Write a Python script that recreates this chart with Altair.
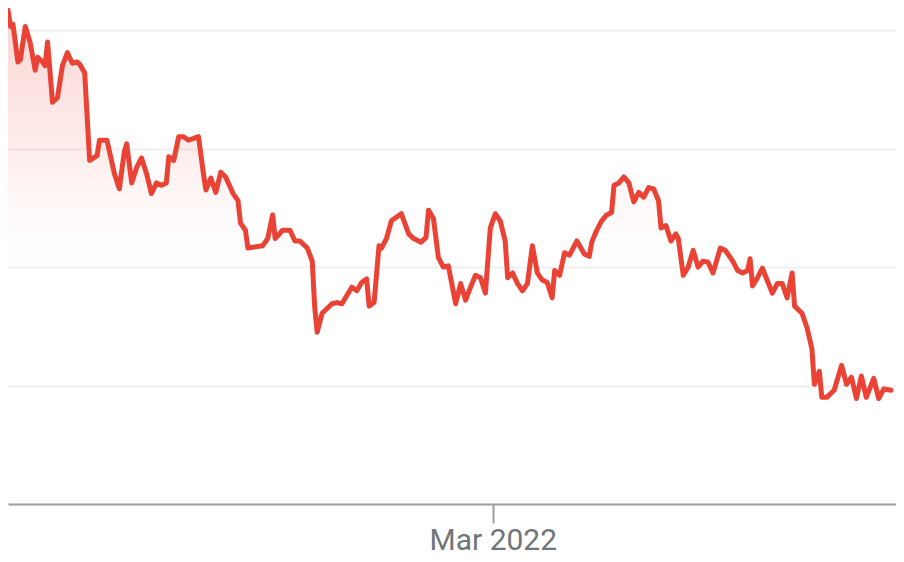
import altair as alt
import pandas as pd

dates = [
    "2021-08-17", "2021-08-18", "2021-08-19", "2021-08-21", "2021-08-22", "2021-08-24", "2021-08-26", "2021-08-28",
    "2021-08-29", "2021-08-31", "2021-09-01", "2021-09-02", "2021-09-04", "2021-09-06", "2021-09-08", "2021-09-10",
    "2021-09-12", "2021-09-14", "2021-09-15", "2021-09-17", "2021-09-19", "2021-09-22", "2021-09-23", "2021-09-26",
    "2021-09-29", "2021-10-01", "2021-10-03", "2021-10-04", "2021-10-06", "2021-10-08", "2021-10-10", "2021-10-12",
    "2021-10-14", "2021-10-16", "2021-10-18", "2021-10-20", "2021-10-21", "2021-10-23", "2021-10-25", "2021-10-27",
    "2021-10-29", "2021-11-02", "2021-11-04", "2021-11-05", "2021-11-07", "2021-11-09", "2021-11-11", "2021-11-13",
    "2021-11-16", "2021-11-18", "2021-11-19", "2021-11-21", "2021-11-22", "2021-11-28", "2021-11-30", "2021-12-02",
    "2021-12-03", "2021-12-06", "2021-12-09", "2021-12-11", "2021-12-13", "2021-12-16", "2021-12-18", "2021-12-19",
    "2021-12-20", "2021-12-22", "2021-12-26", "2021-12-28", "2021-12-30", "2022-01-03", "2022-01-05", "2022-01-07",
    "2022-01-09", "2022-01-10", "2022-01-12", "2022-01-14", "2022-01-15", "2022-01-17", "2022-01-19", "2022-01-23",
    "2022-01-26", "2022-01-28", "2022-01-31", "2022-02-02", "2022-02-03", "2022-02-05", "2022-02-07", "2022-02-09",
    "2022-02-11", "2022-02-14", "2022-02-16", "2022-02-18", "2022-02-20", "2022-02-22", "2022-02-24", "2022-02-26",
    "2022-02-28", "2022-03-02", "2022-03-04", "2022-03-06", "2022-03-07", "2022-03-09", "2022-03-11", "2022-03-13",
    "2022-03-15", "2022-03-17", "2022-03-19", "2022-03-21", "2022-03-23", "2022-03-25", "2022-03-26", "2022-03-28",
    "2022-03-30", "2022-04-01", "2022-04-04", "2022-04-07", "2022-04-09", "2022-04-10", "2022-04-12", "2022-04-14",
    "2022-04-16", "2022-04-18", "2022-04-19", "2022-04-21", "2022-04-23", "2022-04-25", "2022-04-27", "2022-04-29",
    "2022-05-01", "2022-05-03", "2022-05-05", "2022-05-07", "2022-05-08", "2022-05-10", "2022-05-12", "2022-05-14",
    "2022-05-15", "2022-05-17", "2022-05-19", "2022-05-21", "2022-05-23", "2022-05-25", "2022-05-27", "2022-05-29",
    "2022-06-01", "2022-06-03", "2022-06-06", "2022-06-08", "2022-06-10", "2022-06-12", "2022-06-13", "2022-06-14",
    "2022-06-16", "2022-06-18", "2022-06-22", "2022-06-24", "2022-06-26", "2022-06-28", "2022-06-30", "2022-07-01",
    "2022-07-04", "2022-07-06", "2022-07-08", "2022-07-09", "2022-07-11", "2022-07-12", "2022-07-14", "2022-07-17",
    "2022-07-20", "2022-07-22", "2022-07-24", "2022-07-26", "2022-07-28", "2022-07-30", "2022-08-02", "2022-08-04",
    "2022-08-06", "2022-08-09",
]

prices = [
    191.7, 190.3, 190.5, 187.3, 187.5, 190.3, 188.9, 186.6,
    187.7, 187.3, 187.0, 189.0, 183.9, 184.3, 187.0, 188.1,
    187.2, 187.3, 187.1, 186.4, 179.0, 179.4, 180.7, 180.7,
    177.9, 176.6, 179.7, 180.4, 177.1, 178.4, 179.2, 177.9,
    176.2, 177.1, 176.9, 177.1, 179.3, 179.0, 181.0, 181.0,
    180.7, 181.0, 177.9, 176.5, 177.5, 176.3, 178.0, 177.6,
    176.2, 175.6, 173.7, 173.1, 171.6, 171.8, 172.4, 174.4,
    172.4, 173.1, 173.1, 172.2, 172.2, 171.6, 170.5, 166.6,
    164.5, 166.1, 166.9, 167.0, 166.9, 168.3, 168.0, 168.7,
    169.0, 166.7, 167.0, 171.8, 171.6, 172.4, 173.9, 174.5,
    172.8, 172.4, 172.1, 172.5, 174.8, 174.1, 170.8, 170.0,
    170.1, 166.9, 168.6, 167.2, 168.3, 169.3, 169.1, 167.8,
    173.3, 174.5, 173.9, 172.2, 169.1, 169.5, 168.6, 168.0,
    168.6, 171.8, 169.5, 168.9, 168.7, 167.4, 169.7, 169.3,
    171.2, 171.0, 172.2, 171.1, 170.9, 172.1, 173.1, 173.9,
    174.4, 174.6, 176.9, 177.1, 177.6, 177.1, 175.5, 176.3,
    175.9, 176.7, 176.6, 175.6, 173.3, 173.5, 172.2, 172.8,
    172.4, 169.3, 170.0, 171.4, 170.0, 170.5, 170.4, 169.5,
    171.6, 171.4, 170.5, 169.7, 169.5, 169.7, 170.7, 168.4,
    169.1, 169.9, 167.8, 168.6, 168.6, 167.4, 169.5, 166.7,
    166.1, 164.9, 163.1, 160.1, 161.2, 159.0, 159.0, 159.6,
    161.7, 160.1, 160.7, 158.9, 160.8, 159.0, 160.6, 158.9,
    159.7, 159.6,
]

grid_values = [160, 170, 180, 190]
y_domain = [150, 191.86]
x_tick = alt.DateTime(year=2022, month=3, date=1)
x_domain = [alt.DateTime(year=2021, month=8, date=17), alt.DateTime(year=2022, month=8, date=11)]

df = pd.DataFrame({"date": dates, "price": prices})

x_enc = alt.X(
    "date:T",
    scale=alt.Scale(domain=x_domain),
    axis=alt.Axis(
        values=[x_tick],
        format="%b %Y",
        title=None,
        grid=False,
        domainColor="#9e9e9e",
        domainWidth=2,
        tickColor="#9e9e9e",
        tickWidth=2,
        tickSize=19,
        labelPadding=2,
        labelFont="Roboto",
        labelFontSize=30,
        labelColor="#70757a",
    ),
)
y_enc = alt.Y(
    "price:Q",
    stack=None,
    scale=alt.Scale(domain=y_domain, zero=False, nice=False),
    axis=alt.Axis(
        values=grid_values,
        labels=False,
        ticks=False,
        domain=False,
        title=None,
        grid=True,
        gridColor="#efefef",
        gridWidth=2,
    ),
)

area = alt.Chart(df).mark_area(
    line=False,
    clip=True,
    color=alt.Gradient(
        gradient="linear",
        stops=[
            alt.GradientStop(color="rgba(234,67,53,0.22)", offset=0),
            alt.GradientStop(color="rgba(234,67,53,0.09)", offset=0.3),
            alt.GradientStop(color="rgba(255,255,255,0)", offset=0.56),
        ],
        x1=1, x2=1, y1=0, y2=1,
    ),
).encode(x=x_enc, y=y_enc)

line = alt.Chart(df).mark_line(
    color="#ea4335", strokeWidth=5, strokeJoin="round", strokeCap="round", clip=True
).encode(x=x_enc, y=y_enc)

chart = (
    alt.layer(area, line)
    .properties(
        width=888,
        height=547,
        padding=0,
        autosize=alt.AutoSizeParams(type="fit", contains="padding"),
    )
    .configure_view(stroke=None)
)

chart.save("out.html", embed_options={"renderer": "svg", "actions": False})
